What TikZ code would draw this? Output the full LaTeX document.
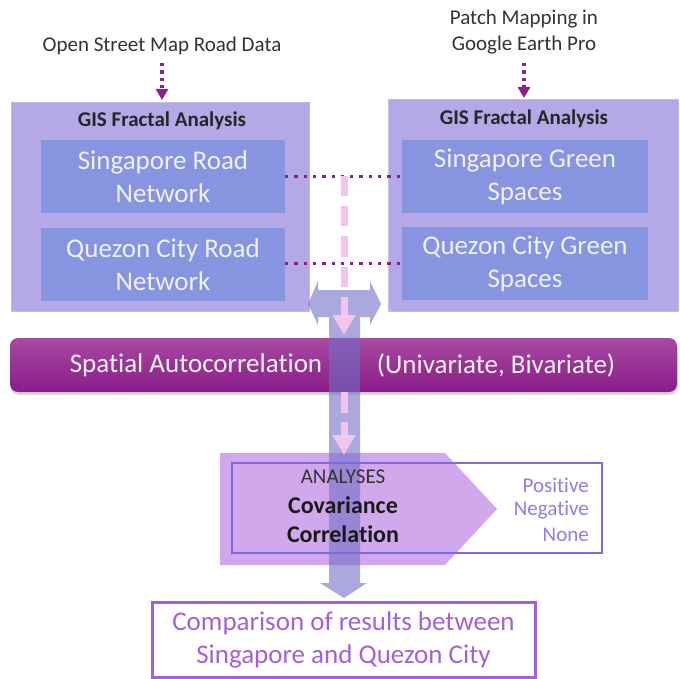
\documentclass[tikz,border=0pt]{standalone}
\usepackage{fontspec}
\setmainfont[Ligatures=NoCommon]{Carlito}
\usetikzlibrary{arrows.meta,shadows}
\definecolor{boxlav}{HTML}{B5A8E7}
\definecolor{innerblue}{HTML}{8794E0}
\definecolor{dotpurple}{HTML}{8C2289}
\definecolor{pinkarr}{HTML}{F2C4EE}
\definecolor{shaftc}{RGB}{113,110,197}
\definecolor{pentc}{RGB}{180,110,223}
\definecolor{rectc}{HTML}{7A6AE4}
\definecolor{resc}{HTML}{8C7EEA}
\definecolor{cmpc}{HTML}{A35FDC}
\definecolor{bartop}{HTML}{A64AA2}
\definecolor{barbot}{HTML}{8A1C88}
\definecolor{srctext}{HTML}{333333}
\newcommand{\txtS}{\fontsize{21}{26}\selectfont}
\newcommand{\txtM}{\fontsize{24}{29}\selectfont}
\newcommand{\txtL}{\fontsize{27}{33}\selectfont}
\begin{document}
\begin{tikzpicture}[x=1pt,y=-1pt,
  bigbox/.style={draw=boxlav!80!white, line width=0.8pt, fill=boxlav, inner sep=0pt, outer sep=0pt},
  innerbox/.style={fill=innerblue, text=white!94!blue, align=center, inner sep=0pt, outer sep=0pt, minimum height=73pt, font=\txtL},
  srclabel/.style={text=srctext, align=center, font=\txtS, inner sep=0pt},
  gistitle/.style={text=black!85, font=\txtS\bfseries, inner sep=0pt},
  dotline/.style={dotpurple, line width=3.3pt, dash pattern=on 3.3pt off 6pt},
  dotarrow/.style={dotpurple, line width=3.3pt, dash pattern=on 3.3pt off 4pt, -{Triangle[width=12pt,length=11pt]}},
  pinkarrow/.style={pinkarr, line width=7pt, dash pattern=on 20pt off 10pt, -{Triangle[width=22pt,length=20pt]}},
  bartext/.style={text=white!95!magenta, font=\txtL, inner sep=0pt},
  restext/.style={text=resc, font=\txtS, inner sep=0pt, anchor=east}
]
\useasboundingbox (0,0) rectangle (680,679);

% sources
\node[srclabel] (src1) at (162,46) {Open Street Map Road Data};
\node[srclabel] (src2) at (524,32) {Patch Mapping in\\Google Earth Pro};

% big boxes
\node[bigbox, minimum width=298pt, minimum height=209pt] (boxL) at (160,206.5) {};
\node[bigbox, minimum width=290pt, minimum height=212pt] (boxR) at (533,205) {};
\node[gistitle] (titL) at (162,121) {GIS Fractal Analysis};
\node[gistitle] (titR) at (524,119) {GIS Fractal Analysis};

% inner boxes
\node[innerbox, minimum width=244pt] (sgRoad) at (163,176.5) {Singapore Road\\Network};
\node[innerbox, minimum width=244pt] (qcRoad) at (163,264.5) {Quezon City Road\\Network};
\node[innerbox, minimum width=246pt] (sgGreen) at (525,176.5) {Singapore Green\\Spaces};
\node[innerbox, minimum width=246pt] (qcGreen) at (525,263.5) {Quezon City Green\\Spaces};

% dotted source arrows
\coordinate (a1s) at (162,63);
\coordinate (a1e) at (162,100);
\coordinate (a2s) at (524,63);
\coordinate (a2e) at (524,98);
\draw[dotarrow] (a1s) -- (a1e);
\draw[dotarrow] (a2s) -- (a2e);

% dotted connectors
\draw[dotline] (sgRoad.east) -- (sgGreen.west);
\draw[dotline] (qcRoad.east |- 0,263.5) -- (qcGreen.west);

% spatial autocorrelation bar
\node[inner sep=0pt, outer sep=0pt, minimum width=667pt, minimum height=54pt, rounded corners=8pt,
      top color=bartop, bottom color=barbot,
      drop shadow={shadow xshift=1pt, shadow yshift=-3pt, opacity=0.3}] (bar) at (343.5,365) {};
\node[bartext] (barA) at (196,365) {Spatial Autocorrelation};
\node[bartext] (barB) at (496,365) {(Univariate, Bivariate)};

% analyses pentagon
\fill[pentc, fill opacity=0.6] (220,453) -- (445,453) -- (497,509) -- (445,565) -- (220,565) -- cycle;

% big transparent arrow (left-right head, down shaft)
\coordinate (shTop) at (344,281);
\coordinate (shBot) at (344,598);
\fill[shaftc, fill opacity=0.6] (308,304) -- (318,281) -- (318,290) -- (370,290) -- (370,281) -- (381,304)
  -- (370,325) -- (370,317) -- (360,317) -- (360,583) -- (367,583) -- (344,598) -- (320,583) -- (329,583)
  -- (329,317) -- (318,317) -- (318,325) -- cycle;

% pink dashed arrows
\coordinate (p1s) at (344,176.5);
\coordinate (p1e) at (344,335);
\coordinate (p2s) at (344,392);
\coordinate (p2e) at (344,455);
\draw[pinkarrow] (p1s) -- (p1e);
\draw[pinkarrow, dash pattern=on 21pt off 9pt] (p2s) -- (p2e);

% analyses frame
\node[draw=rectc, line width=1.8pt, inner sep=0pt, outer sep=0pt, minimum width=370pt, minimum height=90pt] (frame) at (417,508) {};
\node[text=black!80, font=\txtS, inner sep=0pt] (anl) at (343,477) {ANALYSES};
\node[text=black!90, font=\txtM\bfseries, inner sep=0pt] (cov) at (343,505) {Covariance};
\node[text=black!90, font=\txtM\bfseries, inner sep=0pt] (cor) at (343,534) {Correlation};
\node[restext] (pos) at (589,485) {Positive};
\node[restext] (neg) at (589,510) {Negative};
\node[restext] (non) at (589,535) {None};

% comparison box
\node[draw=cmpc, line width=3pt, text=cmpc, font=\txtL, align=center, inner sep=0pt, outer sep=0pt,
      minimum width=383pt, minimum height=75pt] (cmp) at (343.5,639.5) {Comparison of results between\\Singapore and Quezon City};
\end{tikzpicture}
\end{document}
